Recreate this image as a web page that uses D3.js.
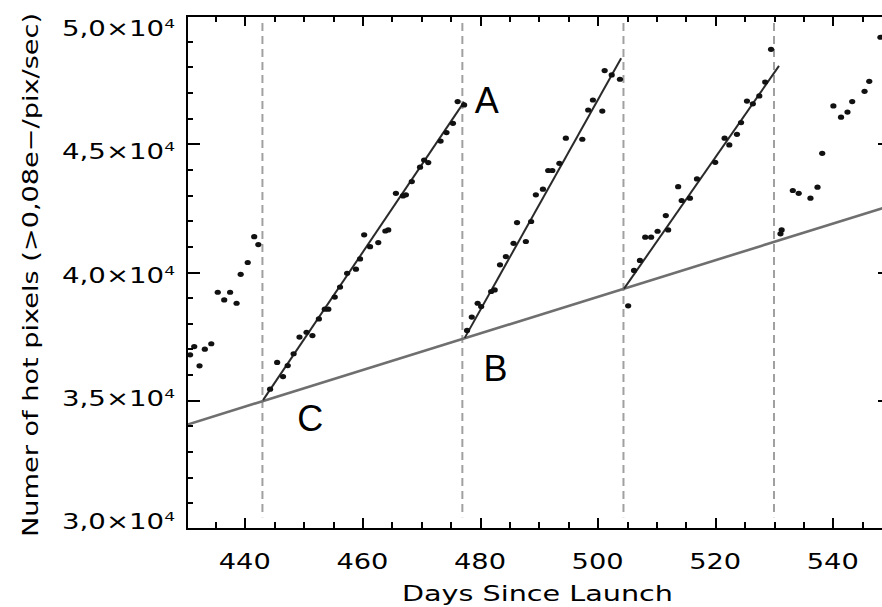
<!DOCTYPE html>
<html>
<head>
<meta charset="utf-8">
<script src="https://cdn.jsdelivr.net/npm/d3@7"></script>
<style>
  html, body { margin: 0; padding: 0; background: #fff; }
  svg { display: block; }
  .axis path, .axis line { stroke: #000; stroke-width: 2px; shape-rendering: crispEdges; }
  .tick-label, .axis-title { font-family: "DejaVu Sans", sans-serif; fill: #000; }
  .mark-label { font-family: "Liberation Sans", Arial, sans-serif; fill: #000; }
</style>
</head>
<body>
<div id="chart"></div>
<script>
// Observed hot pixel counts (day since launch, count)
const days = [
  430.7, 431.4, 432.3, 433.2, 434.3, 435.4, 436.5, 437.5, 438.6, 439.3, 440.5, 441.6, 442.3,
  444.3, 445.5, 446.5, 447.3, 448.3, 449.3, 450.5, 451.5, 452.6, 453.6, 454.2, 455.3, 456.2,
  457.4, 458.9, 459.6, 460.3, 461.3, 462.7, 463.9, 464.4, 465.7, 466.9, 467.4, 468.4, 469.8,
  470.5, 471.2, 473.3, 474.3, 475.4, 476.2, 477.3,
  477.8, 478.6, 479.6, 480.2, 481.9, 482.5, 483.4, 484.4, 485.7, 486.3, 487.8, 488.7, 489.5,
  490.7, 491.6, 492.3, 493.5, 494.6, 497.4, 498.4, 499.2, 500.8, 501.2, 502.4, 503.8,
  505.2, 506.2, 507.2, 508.1, 509.1, 510.2, 511.6, 512.0, 513.7, 514.3, 515.7, 516.9, 520.0,
  521.6, 522.4, 523.7, 524.4, 525.4, 526.4, 527.5, 528.5, 529.5,
  531.1, 531.3, 533.2, 534.2, 536.2, 537.4, 538.2, 540.1, 541.4, 542.5, 543.3, 545.4, 546.2, 548.1
];
const hotPixels = [
  36770, 37090, 36340, 36990, 37200, 39210, 38910, 39210, 38780, 39910, 40370, 41380, 41070,
  35430, 36470, 35920, 36350, 36810, 37460, 37650, 37520, 38170, 38550, 38550, 39020, 39410,
  39950, 40110, 40510, 41450, 40990, 41150, 41600, 41640, 43070, 42970, 43010, 43530, 44090,
  44370, 44270, 45110, 45440, 45800, 46650, 46520,
  37720, 38240, 38780, 38650, 39240, 39300, 40280, 40600, 41120, 41930, 41190, 41970, 43010,
  43230, 43960, 43960, 44240, 45220, 45180, 46320, 46710, 46280, 47860, 47690, 47520,
  38680, 40060, 40450, 41360, 41360, 41590, 42200, 41640, 43330, 42790, 42880, 43630, 44280,
  45220, 44960, 45370, 45830, 46670, 46560, 46870, 47410, 48690,
  41490, 41640, 43180, 43070, 42880, 43310, 44630, 46480, 46040, 46240, 46650, 47050, 47440, 49160
];

// Annealing days (dashed markers)
const annealDays = [443.0, 477.0, 504.4, 530.0];

// Linear fits between anneals: start/end day and value
const fitStartDays = [443.1, 477.4, 504.5];
const fitStartVals = [35000, 37430, 39350];
const fitEndDays = [477.3, 504.0, 530.85];
const fitEndVals = [46640, 48340, 48040];

// Long-term baseline trend
const baseDays = [430, 550];
const baseVals = [34030, 42600];

// Letter annotations
const markLetters = ['A', 'B', 'C'];
const markDays = [479.1, 480.6, 448.9];
const markVals = [46200, 35760, 33800];

// Ticks
const xMajorTicks = [440, 460, 480, 500, 520, 540];
const xMinorTicks = d3.range(430, 551, 5);
const yMajorTicks = [30000, 35000, 40000, 45000, 50000];
const yMinorTicks = d3.range(30000, 50001, 1000);
const yTickMantissa = ['3,0', '3,5', '4,0', '4,5', '5,0'];

const width = 882, height = 607;
const margin = { left: 186, top: 15.7 };
const plotW = 705.6, plotH = 512.6;

const svg = d3.select('#chart').append('svg')
    .attr('width', width)
    .attr('height', height);

const x = d3.scaleLinear().domain([430, 550]).range([0, plotW]);
const y = d3.scaleLinear().domain([30000, 50000]).range([plotH, 0]);

const g = svg.append('g').attr('transform', `translate(${margin.left},${margin.top})`);

g.append('clipPath').attr('id', 'plot-clip')
    .append('rect').attr('width', plotW).attr('height', plotH);

const plot = g.append('g').attr('clip-path', 'url(#plot-clip)');

// Dashed anneal markers
plot.selectAll('.anneal')
    .data(annealDays)
    .enter()
    .append('line')
    .attr('class', 'anneal')
    .attr('x1', d => x(d)).attr('x2', d => x(d))
    .attr('y1', y(49720)).attr('y2', y(30430))
    .attr('stroke', '#a0a0a0')
    .attr('stroke-width', 2)
    .attr('stroke-dasharray', '8,5');

// Baseline trend
plot.append('line')
    .attr('x1', x(baseDays[0])).attr('y1', y(baseVals[0]))
    .attr('x2', x(baseDays[1])).attr('y2', y(baseVals[1]))
    .attr('stroke', '#6f6f6f')
    .attr('stroke-width', 2.6);

// Fitted growth lines
plot.selectAll('.fit')
    .data(fitStartDays)
    .enter()
    .append('line')
    .attr('class', 'fit')
    .attr('x1', (d, i) => x(d)).attr('y1', (d, i) => y(fitStartVals[i]))
    .attr('x2', (d, i) => x(fitEndDays[i])).attr('y2', (d, i) => y(fitEndVals[i]))
    .attr('stroke', '#2a2a2a')
    .attr('stroke-width', 2);

// Data points
plot.selectAll('.pt')
    .data(days)
    .enter()
    .append('ellipse')
    .attr('class', 'pt')
    .attr('cx', d => x(d))
    .attr('cy', (d, i) => y(hotPixels[i]))
    .attr('rx', 3.1)
    .attr('ry', 2.6)
    .attr('fill', '#111');

// Axes: major and minor ticks drawn inward on all four sides
function addAxis(axisFn, scale, transform, majors, minors, majorLen, minorLen) {
    g.append('g').attr('class', 'axis').attr('transform', transform)
        .call(axisFn(scale).tickValues(minors).tickSizeInner(-minorLen).tickSizeOuter(0).tickFormat(''));
    g.append('g').attr('class', 'axis').attr('transform', transform)
        .call(axisFn(scale).tickValues(majors).tickSizeInner(-majorLen).tickSizeOuter(0).tickFormat(''));
}
addAxis(d3.axisBottom, x, `translate(0,${plotH})`, xMajorTicks, xMinorTicks, 10, 6);
addAxis(d3.axisTop, x, 'translate(0,0)', xMajorTicks, xMinorTicks, 10, 6);
addAxis(d3.axisLeft, y, 'translate(0,0)', yMajorTicks, yMinorTicks, 14, 7);
addAxis(d3.axisRight, y, `translate(${plotW},0)`, yMajorTicks, yMinorTicks, 14, 7);

// X tick labels
g.selectAll('.xlab')
    .data(xMajorTicks)
    .enter()
    .append('text')
    .attr('class', 'tick-label')
    .attr('x', d => x(d) - 26)
    .attr('y', plotH + 41)
    .attr('textLength', 52)
    .attr('lengthAdjust', 'spacingAndGlyphs')
    .style('font-size', '21px')
    .text(d => d);

// Y tick labels (spread slightly inside the axis ends)
const yLab = d3.scaleLinear().domain(y.domain()).range([plotH - 6.8, 13]);
const ylabs = g.selectAll('.ylab')
    .data(yMajorTicks)
    .enter()
    .append('text')
    .attr('class', 'tick-label')
    .attr('x', -124)
    .attr('y', d => yLab(d) + 7.5)
    .attr('textLength', 113)
    .attr('lengthAdjust', 'spacingAndGlyphs')
    .style('font-size', '21px');
ylabs.append('tspan').text((d, i) => yTickMantissa[i] + '×10');
ylabs.append('tspan').attr('dy', -8).style('font-size', '13px').text('4');

// Axis titles
svg.append('text')
    .attr('class', 'axis-title')
    .attr('x', 402)
    .attr('y', 601)
    .attr('textLength', 271)
    .attr('lengthAdjust', 'spacingAndGlyphs')
    .style('font-size', '22px')
    .text('Days Since Launch');

svg.append('text')
    .attr('class', 'axis-title')
    .attr('transform', 'translate(38,537) rotate(-90)')
    .attr('textLength', 524)
    .attr('lengthAdjust', 'spacingAndGlyphs')
    .style('font-size', '22px')
    .text('Numer of hot pixels (>0,08e−/pix/sec)');

// Letter annotations
g.selectAll('.mark')
    .data(markLetters)
    .enter()
    .append('text')
    .attr('class', 'mark-label')
    .attr('x', (d, i) => x(markDays[i]))
    .attr('y', (d, i) => y(markVals[i]))
    .style('font-size', '36px')
    .text(d => d);
</script>
</body>
</html>
